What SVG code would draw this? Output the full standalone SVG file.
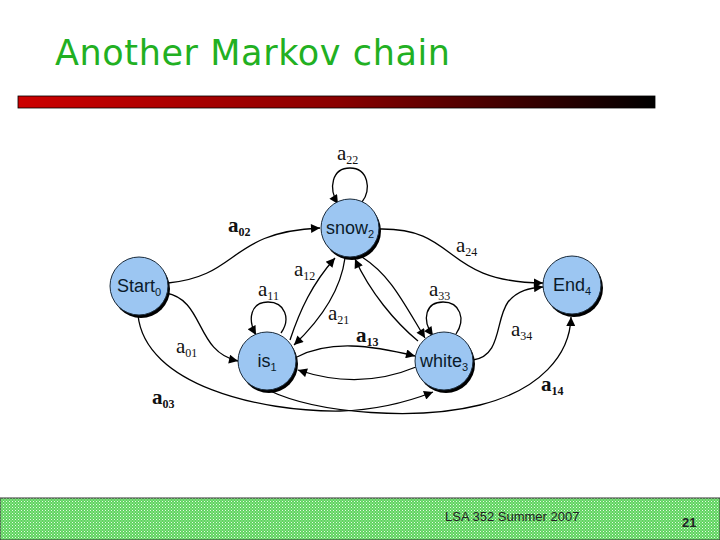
<svg xmlns="http://www.w3.org/2000/svg" width="720" height="540" viewBox="0 0 720 540">
<style>
.title{font-family:"DejaVu Sans",Verdana,sans-serif;font-size:35px;fill:#22b022}
.node{fill:#9cc6f2;stroke:#1a2a3a;stroke-width:1}
.shadow{fill:#000}
.nl{font-family:"Liberation Sans",Arial,sans-serif;font-size:18px;fill:#0a1a2a;text-anchor:middle}
.nl tspan.s{font-size:11px}
.edge{fill:none;stroke:#000;stroke-width:1.3}
.lab{font-family:"Liberation Serif","Times New Roman",serif;font-size:21px;fill:#111}
.lab .s{font-size:12px}
.b{font-weight:bold}
.foot{font-family:"Liberation Sans",Arial,sans-serif;font-size:13px;fill:#222}
</style>
<defs>
<linearGradient id="bar" x1="0" y1="0" x2="1" y2="0">
<stop offset="0" stop-color="#cc0000"/>
<stop offset="0.5" stop-color="#8a0000"/>
<stop offset="1" stop-color="#000000"/>
</linearGradient>
<pattern id="hatch" width="3" height="3" patternUnits="userSpaceOnUse">
<rect width="3" height="3" fill="#5ed45e"/>
<rect width="1" height="1" fill="#e8f8e8"/>
<rect x="1.5" y="1.5" width="1" height="1" fill="#c8f0c8"/>
</pattern>
<marker id="ah" viewBox="0 0 10 10" refX="10" refY="5" markerWidth="11" markerHeight="9" markerUnits="userSpaceOnUse" orient="auto">
<path d="M0,0 L10,5 L0,10 z" fill="#000"/>
</marker>
</defs>
<rect width="720" height="540" fill="#fff"/>
<text class="title" x="55" y="65" textLength="395">Another Markov chain</text>
<rect x="18" y="96" width="637" height="12" fill="url(#bar)" stroke="#000" stroke-width="0.8"/>

<g id="connectors">
<path class="edge" marker-end="url(#ah)" d="M168,283 C 240,276 228,232 320,228"/>
<path class="edge" marker-end="url(#ah)" d="M362,202 C 372,190 368,168 350,168 C 332,168 328,188 338,204"/>
<path class="edge" marker-end="url(#ah)" d="M380,229 C 460,228 440,282 543,283"/>
<path class="edge" marker-end="url(#ah)" d="M166,293 C 205,300 195,352 238,361"/>
<path class="edge" marker-end="url(#ah)" d="M138,315 C 145,385 260,412 340,411 C 380,410 410,401 433,392"/>
<path class="edge" marker-end="url(#ah)" d="M281,333 C 291,319 285,302 268,302 C 251,302 247,319 256,335"/>
<path class="edge" marker-end="url(#ah)" d="M290,340 C 300,310 312,284 335,258"/>
<path class="edge" marker-end="url(#ah)" d="M345,258 C 340,295 315,325 294,345"/>
<path class="edge" marker-end="url(#ah)" d="M362,257 C 390,275 402,300 425,338"/>
<path class="edge" marker-end="url(#ah)" d="M418,341 C 395,322 370,292 355,259"/>
<path class="edge" marker-end="url(#ah)" d="M456,334 C 466,319 460,302 443,302 C 426,302 421,319 433,336"/>
<path class="edge" marker-end="url(#ah)" d="M297,357 C 330,340 370,345 415,356"/>
<path class="edge" marker-end="url(#ah)" d="M416,367 C 380,382 340,384 298,370"/>
<path class="edge" marker-end="url(#ah)" d="M473,360 C 502,356 495,320 508,302 C 518,290 530,288 543,287"/>
<path class="edge" marker-end="url(#ah)" d="M268,390 C 320,415 420,420 480,405 C 540,390 570,355 571,317"/>
</g>

<g id="start">
<circle class="shadow" cx="141" cy="289" r="29"/>
<circle class="node" cx="139" cy="286" r="29"/>
<text class="nl" x="139" y="292">Start<tspan class="s" dy="4">0</tspan></text>
</g>
<g id="snow">
<circle class="shadow" cx="352" cy="231" r="29"/>
<circle class="node" cx="350" cy="228" r="29"/>
<text class="nl" x="350" y="234">snow<tspan class="s" dy="4">2</tspan></text>
</g>
<g id="end">
<circle class="shadow" cx="574" cy="288" r="29"/>
<circle class="node" cx="572" cy="285" r="29"/>
<text class="nl" x="572" y="291">End<tspan class="s" dy="4">4</tspan></text>
</g>
<g id="is">
<circle class="shadow" cx="269" cy="364" r="29"/>
<circle class="node" cx="267" cy="361" r="29"/>
<text class="nl" x="267" y="367">is<tspan class="s" dy="4">1</tspan></text>
</g>
<g id="white">
<circle class="shadow" cx="446" cy="364" r="29"/>
<circle class="node" cx="444" cy="361" r="29"/>
<text class="nl" x="444" y="367">white<tspan class="s" dy="4">3</tspan></text>
</g>

<g id="labels">
<text class="lab" x="337" y="160">a<tspan class="s" dy="4">22</tspan></text>
<text class="lab b" x="228" y="232">a<tspan class="s" dy="4">02</tspan></text>
<text class="lab" x="456" y="252">a<tspan class="s" dy="4">24</tspan></text>
<text class="lab" x="294" y="276">a<tspan class="s" dy="4">12</tspan></text>
<text class="lab" x="258" y="296">a<tspan class="s" dy="4">11</tspan></text>
<text class="lab" x="328" y="320">a<tspan class="s" dy="4">21</tspan></text>
<text class="lab" x="429" y="296">a<tspan class="s" dy="4">33</tspan></text>
<text class="lab b" x="356" y="342">a<tspan class="s" dy="4">13</tspan></text>
<text class="lab" x="176" y="353">a<tspan class="s" dy="4">01</tspan></text>
<text class="lab" x="511" y="336">a<tspan class="s" dy="4">34</tspan></text>
<text class="lab b" x="152" y="404">a<tspan class="s" dy="4">03</tspan></text>
<text class="lab b" x="541" y="391">a<tspan class="s" dy="4">14</tspan></text>
</g>

<rect x="0" y="498" width="720" height="42" fill="url(#hatch)" stroke="#333" stroke-width="1"/>
<text class="foot" x="445" y="521">LSA 352 Summer 2007</text>
<text class="foot b" x="682" y="527">21</text>
</svg>
